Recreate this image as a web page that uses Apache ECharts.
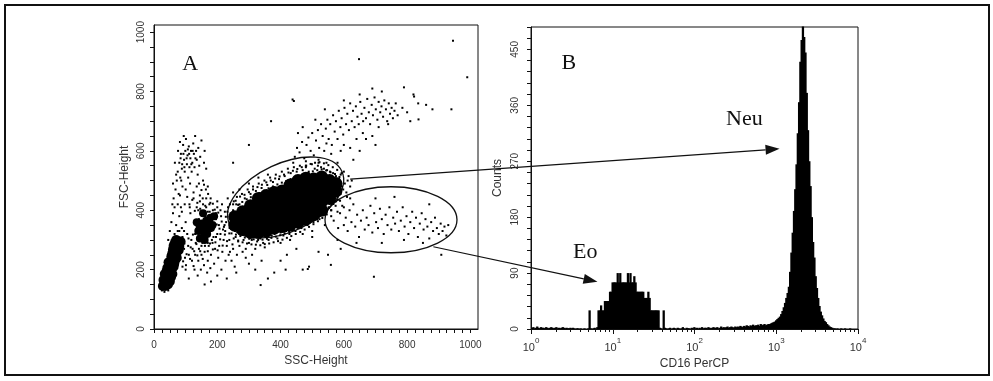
<!DOCTYPE html>
<html>
<head>
<meta charset="utf-8">
<script src="https://cdn.jsdelivr.net/npm/echarts@6/dist/echarts.min.js"></script>
<style>
  html, body { margin: 0; padding: 0; background: #fff; }
  #chart { width: 993px; height: 381px; }
</style>
</head>
<body>
<div id="chart"></div>
<script>
// ---- panel A: SSC-Height vs FSC-Height dot plot ----
const scatterTicks = [0, 200, 400, 600, 800, 1000];

// dense cores (drawn with bigger dots)
const lymCore = [[36,145],[40,160],[44,175],[48,190],[52,205],[56,220],[60,235],[64,250],[68,265],[72,280],[76,295],
  [30,165],[34,185],[50,160],[58,185],[62,210],[66,230],[42,205],[46,225],[70,250],[74,268],[80,280],[55,245],[60,268],[66,290],
  [28,145],[44,150],[38,175],[54,175],[50,215],[64,220],[58,255],[72,240],[78,265],[84,295],[70,300],[62,280]];
const monCore = [[140,330],[150,355],[158,335],[165,365],[172,345],[178,375],[155,390],[145,305],[168,320],[185,350],[190,380],
  [160,300],[135,360],[150,330],[160,320],[175,355],[165,345],[180,340],[145,345]];
const neuCore = [
  [255,350],[255,378],
  [280,335],[280,365],[280,395],
  [305,325],[305,355],[305,385],[305,415],
  [330,325],[330,355],[330,385],[330,415],[330,440],
  [355,330],[355,360],[355,390],[355,420],[355,450],
  [380,340],[380,370],[380,400],[380,430],[380,460],
  [405,345],[405,375],[405,405],[405,435],[405,465],
  [430,350],[430,380],[430,410],[430,440],[430,470],[430,485],
  [455,360],[455,390],[455,420],[455,450],[455,480],[455,500],
  [480,370],[480,400],[480,430],[480,460],[480,490],[480,508],
  [505,385],[505,415],[505,445],[505,475],[505,505],
  [530,400],[530,430],[530,460],[530,490],[530,512],
  [555,440],[555,470],[555,500],
  [575,465],[575,490]];

// sparse events
const lymHalo = [[25,130],[30,180],[35,210],[28,200],[45,130],[55,170],[60,190],[65,210],[40,230],[50,250],[70,240],[75,260],
  [82,240],[85,280],[90,310],[95,330],[60,290],[55,270],[65,320],[80,330],[48,225],[38,195],[22,150],[33,125]];
const monHalo = [[130,320],[135,345],[140,300],[142,370],[147,330],[152,390],[156,310],[160,345],[163,380],[168,320],[172,360],
  [176,395],[180,330],[184,370],[188,310],[192,350],[196,390],[150,280],[170,290],[185,290],[140,400],[165,410],[200,320]];
const neuHalo = [[225,330],[232,395],[238,300],[240,420],[245,345],[248,285],[252,430],[258,310],[262,445],[266,295],[270,420],
  [274,330],[278,455],[283,300],[287,440],[292,315],[296,470],[300,290],[305,455],[309,300],[313,480],[318,310],[322,465],
  [326,295],[331,490],[336,305],[340,475],[345,290],[349,500],[354,310],[358,485],[362,300],[367,510],[372,315],[376,495],
  [381,320],[385,520],[390,305],[395,505],[400,325],[404,530],[409,315],[413,515],[418,330],[423,540],[428,320],[432,525],
  [437,335],[442,545],[447,330],[451,530],[456,345],[461,550],[466,340],[470,535],[475,355],[480,545],[485,350],[489,530],
  [494,365],[499,555],[504,360],[508,540],[513,375],[518,550],[523,370],[528,545],[533,385],[537,540],[542,395],[547,535],
  [552,410],[556,530],[561,420],[566,525],[571,430],[575,515],[580,445],[585,505],[590,455],[594,480],[598,470],[603,490],
  [608,460],[612,500],[590,520],[600,530],[615,515],[620,480],[625,500],[545,560],[520,570],[480,565],[440,560],[360,520],
  [330,510],[300,490],[270,470],[250,460],[600,410],[610,445],[580,395],[560,380],[500,330],[470,320],[430,300],[400,290],
  [350,275],[320,270],[290,270],[500,310],[540,350]];
const neuTopEdge = [[250,420],[258,432],[266,418],[272,446],[279,428],[286,452],[293,437],[300,461],[306,444],[313,470],
  [320,452],[327,478],[334,458],[341,486],[348,466],[355,494],[362,474],[369,500],[376,480],[383,507],[390,487],[397,514],
  [404,493],[411,520],[418,498],[425,527],[432,505],[439,533],[446,510],[453,539],[460,516],[467,545],[474,521],[481,550],
  [488,526],[495,556],[502,531],[509,560],[516,535],[523,562],[530,538],[537,558],[544,534],[551,552],[558,528],[565,545],
  [572,522],[579,536],[586,512],[593,525]];
const neuBottomEdge = [[245,322],[252,305],[259,318],[266,298],[273,313],[280,292],[287,308],[294,288],[301,304],[308,285],
  [315,302],[322,284],[329,300],[336,282],[343,301],[350,286],[357,304],[364,288],[371,307],[378,292],[385,311],[392,296],
  [399,316],[406,301],[413,322],[420,307],[427,328],[434,313],[441,334],[448,320],[455,341],[462,327],[469,349],[476,335],
  [483,357],[490,344],[497,366],[504,353],[511,375],[518,363],[525,385],[532,374],[539,396],[546,386],[553,408],[560,400],
  [567,421],[574,415],[581,436],[588,432]];
const upperCloud = [[445,580],[452,610],[460,595],[468,630],[475,575],[482,620],[488,645],[495,600],[500,660],[505,585],
  [512,635],[518,670],[522,610],[528,690],[533,650],[538,600],[543,675],[548,705],[552,640],[557,690],[562,620],[566,720],
  [571,665],[575,700],[580,640],[584,735],[589,680],[593,710],[598,655],[602,745],[607,690],[611,725],[616,670],[620,760],
  [625,700],[629,735],[634,680],[638,750],[643,715],[647,690],[652,765],[656,725],[661,700],[665,745],[670,710],[674,775],
  [679,730],[683,690],[688,755],[692,720],[697,780],[701,740],[706,705],[710,765],[715,730],[719,750],[724,715],[728,770],
  [733,740],[737,700],[742,760],[746,725],[751,745],[755,710],[760,735],[764,760],[690,650],[640,640],[600,620],[560,590],
  [620,610],[660,660],[710,680],[740,690],[770,720],[785,745],[800,730],[820,790],[835,760],[860,755],[880,740],[810,700],
  [700,620],[650,600],[520,560],[480,550],[580,560],[630,570],[670,640],[590,600],[545,625],[510,705],[470,680],[540,740],
  [600,770],[650,790],[720,800],[690,810],[455,660]];
const eoCloud = [[560,400],[568,365],[575,430],[582,340],[588,390],[595,415],[600,350],[606,375],[612,330],[618,400],[624,360],
  [630,420],[636,345],[642,385],[648,310],[654,365],[660,400],[666,335],[672,375],[678,350],[684,415],[690,325],[696,390],
  [702,360],[708,340],[714,405],[720,370],[726,320],[732,385],[738,350],[744,410],[750,335],[756,375],[762,355],[768,395],
  [774,330],[780,365],[786,410],[792,345],[798,380],[804,320],[810,360],[816,395],[822,340],[828,375],[834,310],[840,355],
  [846,390],[852,335],[858,370],[864,345],[870,305],[876,360],[882,330],[888,375],[894,340],[900,320],[906,355],[912,330],
  [918,345],[924,315],[930,350],[700,440],[760,445],[640,290],[720,290],[790,300],[850,290],[580,300],[620,440],[870,420]];
const sprayCloud = [[62,440],[68,470],[72,500],[75,530],[78,455],[80,560],[83,510],[85,590],[88,540],[90,480],[92,620],
  [95,570],[97,530],[99,600],[101,640],[104,555],[106,585],[108,510],[110,615],[112,545],[115,575],[117,600],[119,530],
  [121,560],[124,625],[126,590],[128,545],[130,650],[133,600],[135,570],[138,520],[140,610],[143,550],[146,580],[150,635],
  [155,500],[158,560],[70,520],[76,600],[82,630],[94,650],[86,500],[100,470],[114,490],[125,460],[135,480],[145,450],
  [60,490],[58,420],[66,560],[89,555],[96,545],[103,575],[111,590],[118,555],[107,605],[93,590],[84,575],[131,575],
  [122,600],[160,600],[165,540],[170,480],[88,395],[97,420],[105,445],[113,410],[121,435],[129,398],[137,425],[146,405],
  [154,440],[162,415],[170,395],[178,425],[75,420],[82,450]];
const lowCloud = [[50,330],[55,360],[60,390],[65,410],[45,300],[70,350],[75,330],[80,380],[85,410],[88,340],[92,300],
  [95,270],[98,240],[100,360],[105,320],[108,280],[110,250],[112,420],[115,390],[118,300],[120,230],[122,270],[125,440],
  [128,200],[130,250],[132,290],[135,410],[138,180],[140,230],[142,270],[145,430],[148,200],[150,250],[153,290],[155,420],
  [158,215],[160,260],[163,300],[165,440],[168,190],[170,230],[173,280],[175,420],[178,205],[180,250],[183,300],[186,400],
  [190,220],[193,270],[196,310],[200,430],[203,240],[206,280],[210,320],[213,200],[216,260],[220,300],[223,350],[226,230],
  [230,280],[233,440],[236,250],[240,260],[245,230],[250,270],[255,210],[262,250],[270,280],[280,260],[290,240],[300,220],
  [310,250],[320,200],[340,230],[360,170],[380,190],[400,230],[420,250],[450,270],[470,200],[490,210],[520,260],[550,250],
  [590,270],[200,180],[230,170],[260,190],[180,160],[160,150],[100,200],[90,210],[110,170],
  [205,350],[212,380],[218,335],[224,395],[228,360],[234,410],[239,340],[244,375],[210,400],[196,370],[190,340],[185,380],
  [200,410],[215,420],[250,400],[255,330],[260,420]];
const bridgeCloud = [[88,265],[96,288],[103,252],[109,305],[116,275],[123,318],[127,262],[134,286],[92,228],[101,215],
  [114,236],[125,212],[137,248],[146,262],[154,236],[161,280],[170,262],[177,288],[186,268],[194,292],[201,265],[209,302],
  [217,281],[224,318],[231,296],[238,322],[207,338],[214,362],[221,344],[227,378],[198,352],[203,392],[192,402],[186,422],
  [179,440],[171,455],[164,470],[158,486],[150,468],[142,490]];
const outliers = [[648,909],[945,971],[990,848],[790,814],[822,783],[836,706],[940,740],[438,773],[442,768],[695,176],
  [559,216],[486,202],[337,148],[416,200],[908,250],[370,700],[300,620],[250,560]];

// ---- panel B: CD16 PerCP histogram, 64 channels per decade from 10^0 to 10^4 ----
const channelsPerDecade = 64;
const countTicks = [0, 90, 180, 270, 360, 450];
const cd16Counts = [
  2,3,1,2,4,2,1,3,2,2,1,3,2,1,2,3,
  2,1,2,3,1,2,1,2,3,2,1,2,1,1,2,1,
  2,1,0,1,1,0,1,0,0,1,0,0,1,30,1,0,
  1,2,0,3,30,30,38,30,30,45,45,45,45,60,60,75,
  75,75,75,90,75,90,75,75,75,75,75,90,75,90,75,75,
  85,75,60,60,60,60,60,60,50,50,50,60,50,30,30,30,
  30,30,30,30,2,1,0,30,2,1,0,1,2,0,1,2,
  1,0,2,1,0,1,3,1,0,2,1,1,0,2,1,3,
  1,2,0,2,1,3,1,2,2,1,3,2,1,2,3,2,
  2,3,1,2,4,2,3,2,3,4,2,3,4,3,2,4,
  3,4,3,5,4,3,5,4,6,5,4,6,5,7,5,6,
  6,7,5,8,6,7,8,6,7,8,8,9,10,11,12,14,
  16,18,20,24,29,35,42,50,58,68,92,123,155,190,225,265,
  315,365,430,465,487,470,445,380,320,270,230,180,140,115,85,66,
  50,37,28,22,17,13,11,8,6,4,3,2,1,1,0,1,
  0,0,1,0,0,1,0,0,0,1,0,0,0,0,0,0
];

const histData = cd16Counts.map((c, i) => [
  Math.pow(10, i / channelsPerDecade),
  Math.pow(10, (i + 1) / channelsPerDecade),
  c
]);

const SANS = '"Liberation Sans", Arial, sans-serif';
const SERIF = '"Liberation Serif", "Times New Roman", serif';
const INK = '#111';
const LABEL = '#333';

const chart = echarts.init(document.getElementById('chart'), null, { renderer: 'canvas' });

const dots = (data) => ({
  type: 'scatter', xAxisIndex: 0, yAxisIndex: 0, data,
  symbol: 'rect', symbolSize: 2, itemStyle: { color: '#000', opacity: 1 }, silent: true
});
const blob = (data, size) => ({
  type: 'scatter', xAxisIndex: 0, yAxisIndex: 0, data,
  symbol: 'circle', symbolSize: size, itemStyle: { color: '#000', opacity: 1, borderWidth: 0 }, silent: true
});

const axisCommon = {
  axisLine: { lineStyle: { color: INK, width: 1 } },
  axisTick: { lineStyle: { color: INK }, length: 4 },
  splitLine: { show: false },
  nameTextStyle: { fontFamily: SANS, fontSize: 12, color: LABEL }
};

chart.setOption({
  animation: false,
  backgroundColor: '#fff',
  grid: [
    { left: 154, right: 515, top: 25, bottom: 52, show: true, borderColor: INK, borderWidth: 1 },
    { left: 531, right: 135, top: 27, bottom: 52, show: true, borderColor: INK, borderWidth: 1 }
  ],
  xAxis: [
    Object.assign({}, axisCommon, {
      gridIndex: 0, type: 'value', min: 0, max: 1024, interval: 25,
      name: 'SSC-Height', nameLocation: 'middle', nameGap: 25,
      axisLabel: {
        fontFamily: SANS, fontSize: 10, color: LABEL, margin: 11, showMaxLabel: false,
        formatter: (v) => (scatterTicks.includes(v) ? String(v) : '')
      }
    }),
    Object.assign({}, axisCommon, {
      gridIndex: 1, type: 'log', logBase: 10, min: 1, max: 10000,
      name: 'CD16 PerCP', nameLocation: 'middle', nameGap: 25,
      axisTick: { lineStyle: { color: INK }, length: 5 },
      axisLabel: {
        margin: 8, showMinLabel: true, showMaxLabel: true,
        formatter: (v) => '{b|10}{s|' + Math.round(Math.log10(v)) + '}',
        rich: {
          b: { fontFamily: SANS, fontSize: 11, color: LABEL, lineHeight: 16, verticalAlign: 'bottom' },
          s: { fontFamily: SANS, fontSize: 8, color: LABEL, lineHeight: 7, verticalAlign: 'top' }
        }
      }
    })
  ],
  yAxis: [
    Object.assign({}, axisCommon, {
      gridIndex: 0, type: 'value', min: 0, max: 1024, interval: 50,
      name: 'FSC-Height', nameLocation: 'middle', nameGap: 23,
      axisLabel: {
        fontFamily: SANS, fontSize: 10, color: LABEL, rotate: 90, margin: 8, showMaxLabel: false,
        formatter: (v) => (scatterTicks.includes(v) ? String(v) : '')
      }
    }),
    Object.assign({}, axisCommon, {
      gridIndex: 1, type: 'value', min: 0, max: 486, interval: 18,
      name: 'Counts', nameLocation: 'middle', nameGap: 27,
      axisLabel: {
        fontFamily: SANS, fontSize: 10, color: LABEL, rotate: 90, margin: 11,
        formatter: (v) => (countTicks.includes(v) ? String(v) : '')
      }
    })
  ],
  series: [
    dots(lymHalo), dots(monHalo), dots(neuHalo), dots(neuTopEdge), dots(neuBottomEdge), dots(upperCloud),
    dots(eoCloud), dots(sprayCloud), dots(lowCloud), dots(bridgeCloud), dots(outliers),
    blob(lymCore, 10), blob(monCore, 8), blob(neuCore, 13),
    {
      type: 'custom', xAxisIndex: 1, yAxisIndex: 1, data: histData,
      encode: { x: [0, 1], y: 2 }, silent: true,
      renderItem: (params, api) => {
        const top = api.coord([api.value(0), api.value(2)]);
        const base = api.coord([api.value(1), 0]);
        return {
          type: 'rect',
          shape: { x: top[0], y: top[1], width: base[0] - top[0] + 1, height: base[1] - top[1] },
          style: { fill: '#000' }
        };
      }
    }
  ]
});

// ---- annotations: gates, arrows, panel letters, log minor ticks ----
const toA = (p) => chart.convertToPixel({ gridIndex: 0 }, p);
const toB = (p) => chart.convertToPixel({ gridIndex: 1 }, p);

function arrow(from, to) {
  const dx = to[0] - from[0], dy = to[1] - from[1];
  const len = Math.hypot(dx, dy), ux = dx / len, uy = dy / len;
  const head = 14, half = 5;
  const bx = to[0] - ux * head, by = to[1] - uy * head;
  return [
    { type: 'line', shape: { x1: from[0], y1: from[1], x2: bx, y2: by }, style: { stroke: INK, lineWidth: 1.2 } },
    { type: 'polygon', shape: { points: [to, [bx - uy * half, by + ux * half], [bx + uy * half, by - ux * half]] }, style: { fill: INK } }
  ];
}

function label(text, p) {
  return { type: 'text', x: p[0], y: p[1], style: { text, font: '22px ' + SERIF, fill: INK, align: 'center', verticalAlign: 'middle' } };
}

const g1 = toA([416, 443]);
const g2 = toA([749, 368]);
const graphic = [
  { type: 'rect', shape: { x: 5, y: 5, width: 984, height: 370 }, style: { fill: 'none', stroke: INK, lineWidth: 2 } },
  { type: 'ellipse', x: g1[0], y: g1[1], rotation: 25 * Math.PI / 180, shape: { cx: 0, cy: 0, rx: 62, ry: 34 }, style: { fill: 'none', stroke: INK, lineWidth: 1.3 } },
  { type: 'ellipse', x: g2[0], y: g2[1], shape: { cx: 0, cy: 0, rx: 66, ry: 33 }, style: { fill: 'none', stroke: INK, lineWidth: 1.3 } },
  ...arrow(toA([620, 505]), toB([1097, 290])),
  ...arrow(toA([883, 277]), toB([6.5, 76])),
  label('A', toA([114, 892])),
  label('B', toB([2.9, 427])),
  label('Neu', toB([407, 337])),
  label('Eo', toB([4.6, 123]))
];

for (let d = 0; d < 4; d++) {
  for (let m = 2; m <= 9; m++) {
    const p = toB([m * Math.pow(10, d), 0]);
    const x = Math.round(p[0]) + 0.5;
    graphic.push({ type: 'line', shape: { x1: x, y1: p[1], x2: x, y2: p[1] + 3 }, style: { stroke: INK, lineWidth: 1 } });
  }
}

chart.setOption({ graphic });
</script>
</body>
</html>
